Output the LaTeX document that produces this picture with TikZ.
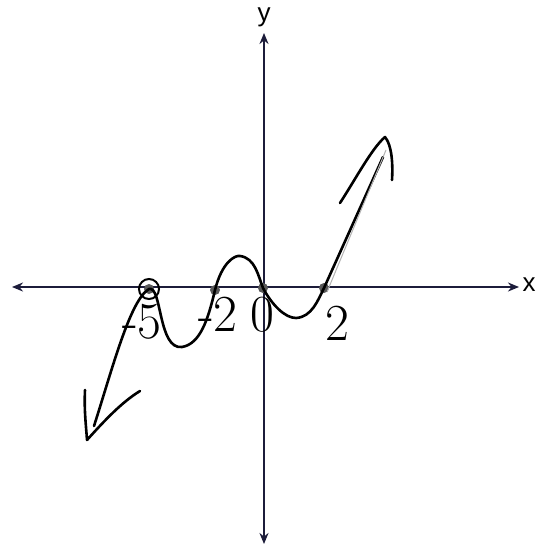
\documentclass[tikz,border=0pt]{standalone}
\usepackage{fontspec}
\newfontfamily\axisfont{Liberation Sans}
\usetikzlibrary{arrows.meta}
\definecolor{axiscol}{HTML}{1C1C3A}
\tikzset{
  axis/.style={line width=2pt, color=axiscol, arrows={Stealth[length=11pt,width=9pt]-Stealth[length=11pt,width=9pt]}},
  curve/.style={line width=2.6pt, black, line cap=round, line join=round},
  zdot/.style={circle, fill=gray!70!black, inner sep=0pt, minimum width=10pt, minimum height=8pt},
  numlbl/.style={font=\fontsize{52}{52}\selectfont, inner sep=0pt},
  axlbl/.style={font=\axisfont\fontsize{26}{26}\selectfont, inner sep=0pt}
}
\begin{document}
\begin{tikzpicture}[x=1pt,y=-1pt]
\useasboundingbox[fill=white] (0,0) rectangle (540,550);
% axes
\coordinate (xl) at (12,287);
\coordinate (xr) at (519,287);
\coordinate (yt) at (264,33);
\coordinate (yb) at (264,544);
\draw[axis] (xl) -- (xr);
\draw[axis] (yb) -- (yt);
\node[axlbl] (xlab) at (529,285) {x};
\node[axlbl] (ylab) at (264,17) {y};
% zeros
\node[zdot] (z1) at (149,289) {};
\node[zdot] (z2) at (215,290) {};
\node[zdot] (z3) at (263,288) {};
\node[zdot] (z4) at (324,288) {};
\draw[line width=2pt] (z1) circle[radius=10pt];
% labels
\node[numlbl] (l1) at (142,322) {-5};
\node[numlbl] (l2) at (218,314) {-2};
\node[numlbl] (l3) at (262,315) {0};
\node[numlbl] (l4) at (337,323) {2};
% curve
\coordinate (c0) at (94,426);
\coordinate (c9) at (383,157);
\draw[curve] (c0) .. controls (112,370) and (130,300) .. (z1.center)
  .. controls (162,285) and (158,350) .. (182,347)
  .. controls (200,344) and (208,320) .. (z2.center)
  .. controls (222,262) and (235,255) .. (240,256)
  .. controls (255,258) and (258,275) .. (z3.center)
  .. controls (272,305) and (285,318) .. (296,318)
  .. controls (312,317) and (318,300) .. (z4.center)
  -- (c9);
\draw[line width=1pt, gray!60] (327,292) -- (386,150);
% arrowheads
\coordinate (la1) at (85,390);
\coordinate (la2) at (87,440);
\coordinate (la3) at (140,391);
\draw[curve] (la1) .. controls (84,410) and (86,425) .. (la2) .. controls (105,420) and (122,402) .. (la3);
\coordinate (ra1) at (340,203);
\coordinate (ra2) at (385,137);
\coordinate (ra3) at (392,180);
\draw[curve] (ra1) .. controls (355,180) and (372,148) .. (ra2) .. controls (392,145) and (393,165) .. (ra3);
\end{tikzpicture}
\end{document}
